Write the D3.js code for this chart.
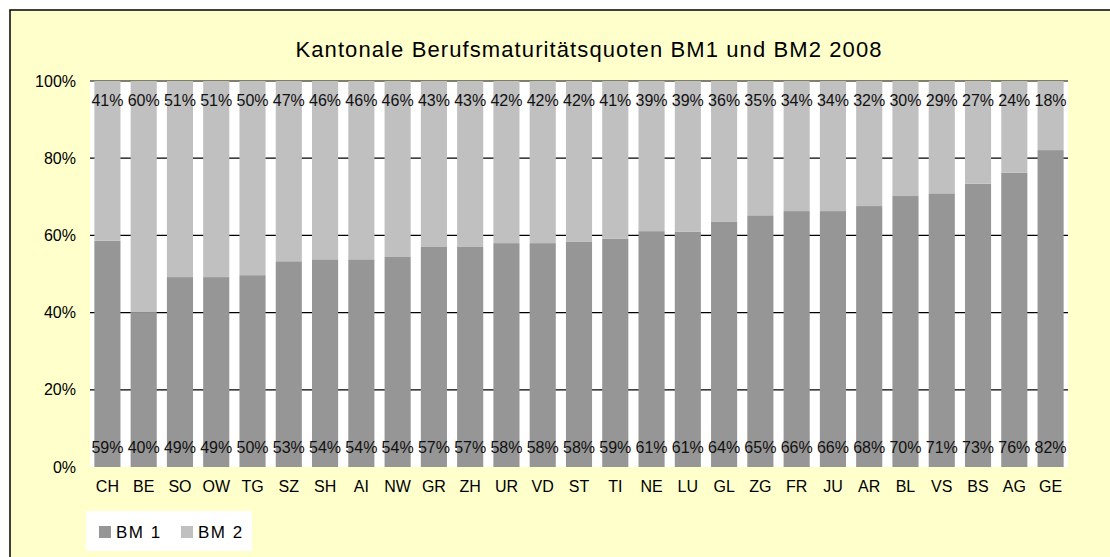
<!DOCTYPE html>
<html lang="de">
<head>
<meta charset="utf-8">
<title>Kantonale Berufsmaturitätsquoten</title>
<style>
  body { margin: 0; background: #fff; }
  svg { display: block; font-family: "Liberation Sans", Arial, sans-serif; }
</style>
<script src="https://cdnjs.cloudflare.com/ajax/libs/d3/7.8.5/d3.min.js"></script>
</head>
<body>
<div id="chart"></div>
<script>
// data (percent of total per canton)
var cantons = ["CH","BE","SO","OW","TG","SZ","SH","AI","NW","GR","ZH","UR","VD","ST",
               "TI","NE","LU","GL","ZG","FR","JU","AR","BL","VS","BS","AG","GE"];
var bm1 = [58.6, 40.0, 49.2, 49.2, 49.7, 53.3, 53.8, 53.8, 54.4, 57.0, 57.0, 58.0, 58.0, 58.3,
           59.1, 61.1, 61.0, 63.6, 65.2, 66.3, 66.3, 67.6, 70.2, 70.9, 73.4, 76.2, 82.1];
var bm2 = [41.4, 60.0, 50.8, 50.8, 50.3, 46.7, 46.2, 46.2, 45.6, 43.0, 43.0, 42.0, 42.0, 41.7,
           40.9, 38.9, 39.0, 36.4, 34.8, 33.7, 33.7, 32.4, 29.8, 29.1, 26.6, 23.8, 17.9];
var seriesNames = ["BM 1", "BM 2"];
var yTicks = [0, 20, 40, 60, 80, 100];

var W = 1110, H = 557;
var margin = {left: 90, right: 42, top: 81, bottom: 90};
var colors = ["#969696", "#c0c0c0"];

var svg = d3.select("#chart").append("svg")
    .attr("width", W)
    .attr("height", H);

// chart area
svg.append("rect")
    .attr("x", 10).attr("y", 10)
    .attr("width", W + 20).attr("height", H + 20)
    .attr("fill", "#ffffcc")
    .attr("stroke", "#000")
    .attr("stroke-width", 1.5);

svg.append("text")
    .attr("x", 589)
    .attr("y", 57)
    .attr("text-anchor", "middle")
    .style("font-size", "22px")
    .style("letter-spacing", "1.1px")
    .attr("fill", "#000")
    .text("Kantonale Berufsmaturitätsquoten BM1 und BM2 2008");

var x = d3.scaleBand()
    .domain(cantons)
    .range([margin.left, W - margin.right])
    .paddingInner(0.28)
    .paddingOuter(0.12);

var y = d3.scaleLinear()
    .domain([0, 100])
    .range([H - margin.bottom, margin.top]);

// plot area
svg.append("rect")
    .attr("x", margin.left)
    .attr("y", y(100))
    .attr("width", W - margin.right - margin.left)
    .attr("height", y(0) - y(100))
    .attr("fill", "#fff");

// gridlines
svg.selectAll("line.grid")
    .data(yTicks.filter(function(d) { return d > 0; }))
    .enter().append("line")
    .attr("class", "grid")
    .attr("x1", margin.left)
    .attr("x2", W - margin.right)
    .attr("y1", function(d) { return y(d); })
    .attr("y2", function(d) { return y(d); })
    .attr("stroke", "#000")
    .attr("stroke-width", 1.2);

// y axis labels
var yAxis = svg.append("g")
    .attr("transform", "translate(" + (margin.left - 14) + ",0)")
    .call(d3.axisLeft(y).tickValues(yTicks).tickSize(0).tickPadding(0)
        .tickFormat(function(d) { return d + "%"; }));
yAxis.select(".domain").remove();
yAxis.selectAll("text")
    .style("font-size", "16px")
    .style("font-family", "Liberation Sans, Arial, sans-serif")
    .attr("fill", "#000");

// stacked bars
var rows = cantons.map(function(c, i) { return {canton: c, bm1: bm1[i], bm2: bm2[i]}; });
var stack = d3.stack().keys(["bm1", "bm2"]);
var layers = stack(rows);

svg.selectAll("g.layer")
    .data(layers)
    .enter().append("g")
    .attr("class", "layer")
    .attr("fill", function(d, i) { return colors[i]; })
    .selectAll("rect")
    .data(function(d) { return d; })
    .enter().append("rect")
    .attr("x", function(d) { return x(d.data.canton); })
    .attr("width", x.bandwidth())
    .attr("y", function(d) { return y(d[1]); })
    .attr("height", function(d) { return y(d[0]) - y(d[1]); });

// value labels
svg.selectAll("text.lbl1")
    .data(rows)
    .enter().append("text")
    .attr("class", "lbl1")
    .attr("x", function(d) { return x(d.canton) + x.bandwidth() / 2; })
    .attr("y", y(0) - 20)
    .attr("dy", "0.35em")
    .attr("text-anchor", "middle")
    .style("font-size", "16px")
    .attr("fill", "#111")
    .text(function(d) { return Math.round(d.bm1) + "%"; });

svg.selectAll("text.lbl2")
    .data(rows)
    .enter().append("text")
    .attr("class", "lbl2")
    .attr("x", function(d) { return x(d.canton) + x.bandwidth() / 2; })
    .attr("y", y(100) + 19)
    .attr("dy", "0.35em")
    .attr("text-anchor", "middle")
    .style("font-size", "16px")
    .attr("fill", "#111")
    .text(function(d) { return Math.round(d.bm2) + "%"; });

// x axis labels
var xAxis = svg.append("g")
    .attr("transform", "translate(0," + (y(0) + 14) + ")")
    .call(d3.axisBottom(x).tickSize(0).tickPadding(0));
xAxis.select(".domain").remove();
xAxis.selectAll("text")
    .style("font-size", "16px")
    .style("font-family", "Liberation Sans, Arial, sans-serif")
    .attr("fill", "#000");

// legend
var legend = svg.append("g").attr("transform", "translate(86,511)");
legend.append("rect")
    .attr("width", 166).attr("height", 40)
    .attr("fill", "#fff");
var item = legend.selectAll("g.item")
    .data(seriesNames)
    .enter().append("g")
    .attr("class", "item")
    .attr("transform", function(d, i) { return "translate(" + (13 + i * 82) + ",0)"; });
item.append("rect")
    .attr("y", 15).attr("width", 12).attr("height", 12)
    .attr("fill", function(d, i) { return colors[i]; });
item.append("text")
    .attr("x", 17).attr("y", 21)
    .attr("dy", "0.35em")
    .style("font-size", "17px")
    .style("letter-spacing", "1.5px")
    .attr("fill", "#000")
    .text(function(d) { return d; });
</script>
</body>
</html>
